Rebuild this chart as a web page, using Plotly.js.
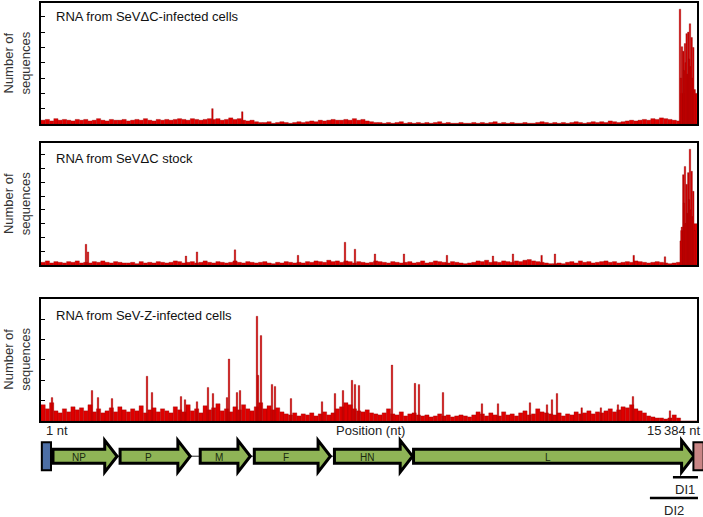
<!DOCTYPE html>
<html>
<head>
<meta charset="utf-8">
<script src="https://cdn.plot.ly/plotly-3.0.1.min.js"></script>
<style>
  html, body { margin: 0; padding: 0; background: #fff; }
  #chart { width: 703px; height: 517px; }
</style>
</head>
<body>
<div id="chart"></div>
<script>
// genome length and histogram bin size (nt)
var genomeLen = 15384;
var binWidth = 100;

// panel titles
var panelTitles = ['RNA from SeV\u0394C-infected cells', 'RNA from SeV\u0394C stock', 'RNA from SeV-Z-infected cells'];

// background counts per 100-nt bin
var base1 = [5,6,4,7,5,6,5,4,6,5, 6,4,5,7,5,4,6,5,5,6, 4,5,6,5,7,5,4,6,5,6, 5,6,7,6,5,7,6,5,6,7,
  6,7,5,6,8,6,7,5,4,5, 3,2,2,3,1,2,3,2,1,2, 3,2,3,4,3,5,4,5,6,5, 5,6,5,7,5,6,4,3,2,2,
  1,2,1,2,3,1,2,1,2,1, 2,1,2,3,1,2,1,1,2,1, 1,2,1,2,1,2,3,1,2,1, 2,1,1,2,1,1,2,3,2,1,
  2,1,2,1,2,3,2,1,2,3, 2,3,2,4,3,2,3,4,5,4, 5,6,5,7,6,8,7,6,5,4, 40,45,50,40];
var base2 = [4,6,3,5,4,3,5,4,6,3, 4,3,5,4,6,4,3,5,4,3, 3,4,2,5,3,4,3,5,4,3, 4,6,5,3,4,5,3,4,6,4,
  3,5,4,3,4,6,4,3,5,4, 3,4,5,3,2,4,3,5,4,3, 4,3,5,4,6,5,4,7,5,6, 4,6,5,3,5,4,3,4,6,5,
  4,3,5,4,3,4,5,3,4,6, 3,4,6,5,4,3,5,4,3,2, 3,4,6,5,7,4,5,4,6,5, 4,6,5,7,8,6,5,4,3,2,
  2,3,2,4,5,3,6,4,5,3, 4,5,6,4,5,3,4,5,4,6, 5,4,3,4,5,4,3,2,3,4, 50,60,70,60];
var base3 = [16,12,18,10,8,12,9,14,11,13, 10,16,9,12,8,10,13,9,14,11, 9,12,10,15,8,11,13,9,12,10,
  8,14,11,9,16,10,12,8,15,11, 13,17,10,12,9,14,11,16,12,10, 14,18,12,15,11,13,9,7,6,8,
  5,7,6,8,5,7,9,6,8,12, 14,18,16,12,10,9,11,8,7,6, 8,12,7,6,9,5,7,8,6,5,
  6,4,5,7,5,6,4,5,6,5, 4,6,9,7,5,8,6,5,9,6, 7,5,8,10,6,7,12,9,8,7,
  6,8,5,7,6,9,7,8,10,7, 9,8,10,12,9,11,14,13,16,12, 10,8,5,4,3,3,2,3,6,3, 0,0,0,0];

// single tall peaks: position (nt) and count
var peakPos1 = [4020,4720, 14985,15010,15031,15062,15080,15102,15120,15141,15160,15179,15200,15219,15240,15259,15280,15297,15330];
var peakVal1 = [20,16, 150,60,101,95,70,105,80,118,65,120,85,131,75,113,60,100,45];
var peakPos2 = [1055,1102,3400,3658,4549,6027,7129,7363,7832,8512,9520,10599,11068,11740,12053,13900,14633,
  15001,15030,15062,15080,15102,15120,15141,15160,15179,15200,15219,15240,15259,15280,15297,15330];
var peakVal2 = [30,19,13,19,22,14,33,23,16,16,14,13,16,14,16,14,12,
  35,55,131,90,143,60,117,75,134,95,168,80,136,70,107,50];
var peakPos3 = [258,1196,1337,1665,2486,2603,3283,3377,3658,3916,4033,4362,4409,4596,4667,5065,5089,5159,5417,5487,5862,6590,
  6894,7082,7293,7363,7457,8231,8770,8864,9427,10341,10717,11467,11866,11983,12100,12680,13130,13530,13882,14750];
var peakVal3 = [23,30,23,22,44,28,24,21,19,33,27,23,61,28,30,103,45,84,36,34,22,19,
  27,30,40,36,35,55,37,36,28,17,17,18,16,21,27,13,13,16,24,10];

// genome map (nt)
var genes = ['NP','P','M','F','HN','L'];
var geneStart = [282,1855,3734,5003,6882,8737];
var geneEnd = [1785,3500,4909,6788,8714,15313];
var leader = [20,235];
var trailer = [15300,15540];
var diNames = ['DI1','DI2'];
var diStart = [14820,14280];
var diEnd = [15407,15407];

var yMax = [158,177,120];
var bases = [base1, base2, base3];
var peakPos = [peakPos1, peakPos2, peakPos3];
var peakVal = [peakVal1, peakVal2, peakVal3];
var yDomains = [[0.7602,0.9942],[0.4874,0.7234],[0.1857,0.4217]];
var titleY = [0.969, 0.694, 0.389];
var yTitleY = [0.877, 0.605, 0.304];

var data = [];
var layout = {
  width: 703, height: 517,
  margin: {l: 0, r: 0, t: 0, b: 0},
  paper_bgcolor: '#fff', plot_bgcolor: 'rgba(0,0,0,0)',
  showlegend: false,
  barmode: 'overlay',
  bargap: 0,
  font: {family: 'Liberation Sans, Arial, sans-serif', color: '#222'},
  shapes: [],
  annotations: []
};

for (var p = 0; p < 3; p++) {
  var n = p + 1;
  var xa = 'x' + (n === 1 ? '' : n), ya = 'y' + (n === 1 ? '' : n);
  var b = bases[p];
  data.push({
    type: 'bar', xaxis: xa, yaxis: ya,
    x: b.map(function (v, i) { return i * binWidth + binWidth / 2; }),
    y: b, width: binWidth,
    marker: {color: '#de0000', line: {color: '#8a0000', width: 0.3}},
    hoverinfo: 'skip'
  });
  data.push({
    type: 'bar', xaxis: xa, yaxis: ya,
    x: peakPos[p], y: peakVal[p], width: 36,
    marker: {color: '#d80000', line: {color: '#7a0000', width: 0.3}},
    hoverinfo: 'skip'
  });
  layout['xaxis' + (n === 1 ? '' : n)] = {
    domain: [41 / 703, 697 / 703], anchor: ya, range: [0, genomeLen],
    showticklabels: false, ticks: '', showgrid: false, zeroline: false,
    showline: true, mirror: true, linecolor: '#000', linewidth: 2
  };
  layout['yaxis' + (n === 1 ? '' : n)] = {
    domain: yDomains[p], anchor: xa, range: [0, yMax[p]], dtick: 20,
    showticklabels: false, ticks: 'inside', ticklen: 4, tickwidth: 1, tickcolor: '#000',
    showgrid: false, zeroline: false,
    showline: true, mirror: true, linecolor: '#000', linewidth: 2
  };
  layout.annotations.push({
    xref: 'paper', yref: 'paper', x: 54 / 703, y: titleY[p], xanchor: 'left', yanchor: 'middle',
    text: panelTitles[p], showarrow: false, font: {size: 13, color: '#111'}
  });
  layout.annotations.push({
    xref: 'paper', yref: 'paper', x: 17 / 703, y: yTitleY[p], xanchor: 'center', yanchor: 'middle',
    text: 'Number of<br>sequences', textangle: -90, showarrow: false, font: {size: 13, color: '#333'}
  });
}

// genome map axis: full width, y in pixels from the top of the strip
layout.xaxis4 = {domain: [0, 1], anchor: 'y4', range: [-961, 15525], visible: false};
layout.yaxis4 = {domain: [0, 0.16], anchor: 'x4', range: [83, 0], visible: false};
data.push({type: 'scatter', xaxis: 'x4', yaxis: 'y4', x: [0], y: [0], mode: 'markers',
  marker: {opacity: 0}, hoverinfo: 'skip'});

var headLen = 290;
layout.shapes.push({type: 'line', xref: 'x4', yref: 'y4', x0: leader[1], x1: trailer[0], y0: 22, y1: 22,
  line: {color: '#222', width: 1}, layer: 'above'});
genes.forEach(function (g, i) {
  var s = geneStart[i], e = geneEnd[i], h = e - headLen;
  layout.shapes.push({
    type: 'path', xref: 'x4', yref: 'y4', layer: 'above',
    path: 'M' + s + ',15 L' + h + ',15 L' + h + ',6 L' + e + ',22 L' + h + ',38 L' + h + ',29 L' + s + ',29 Z',
    fillcolor: '#8fb456', line: {color: '#000', width: 3}
  });
  layout.annotations.push({xref: 'x4', yref: 'y4', x: (s + h) / 2, y: 23, text: g, showarrow: false,
    font: {size: 10, color: '#1a2a10'}});
});
layout.shapes.push({type: 'rect', xref: 'x4', yref: 'y4', x0: leader[0], x1: leader[1], y0: 8, y1: 36,
  fillcolor: '#4d6fa6', line: {color: '#000', width: 2}, layer: 'above'});
layout.shapes.push({type: 'rect', xref: 'x4', yref: 'y4', x0: trailer[0], x1: trailer[1], y0: 8, y1: 36,
  fillcolor: '#c98585', line: {color: '#000', width: 2}, layer: 'above'});
var diY = [43, 64];
diNames.forEach(function (d, i) {
  layout.shapes.push({type: 'line', xref: 'x4', yref: 'y4', x0: diStart[i], x1: diEnd[i], y0: diY[i], y1: diY[i],
    line: {color: '#000', width: 2.5}, layer: 'above'});
  layout.annotations.push({xref: 'x4', yref: 'y4', x: (diStart[i] + diEnd[i]) / 2, y: diY[i] + 12, text: d,
    showarrow: false, font: {size: 13, color: '#222'}});
});

layout.annotations.push({xref: 'paper', yref: 'paper', x: 44 / 703, y: 0.168, xanchor: 'left', yanchor: 'middle',
  text: '1 nt', showarrow: false, font: {size: 13, color: '#222'}});
layout.annotations.push({xref: 'paper', yref: 'paper', x: 370 / 703, y: 0.168, xanchor: 'center', yanchor: 'middle',
  text: 'Position (nt)', showarrow: false, font: {size: 13, color: '#222'}});
layout.annotations.push({xref: 'paper', yref: 'paper', x: 1, y: 0.168, xanchor: 'right', yanchor: 'middle',
  text: '15\u2009384 nt', showarrow: false, font: {size: 13, color: '#222'}});

Plotly.newPlot('chart', data, layout, {displayModeBar: false, staticPlot: true});
</script>
</body>
</html>
